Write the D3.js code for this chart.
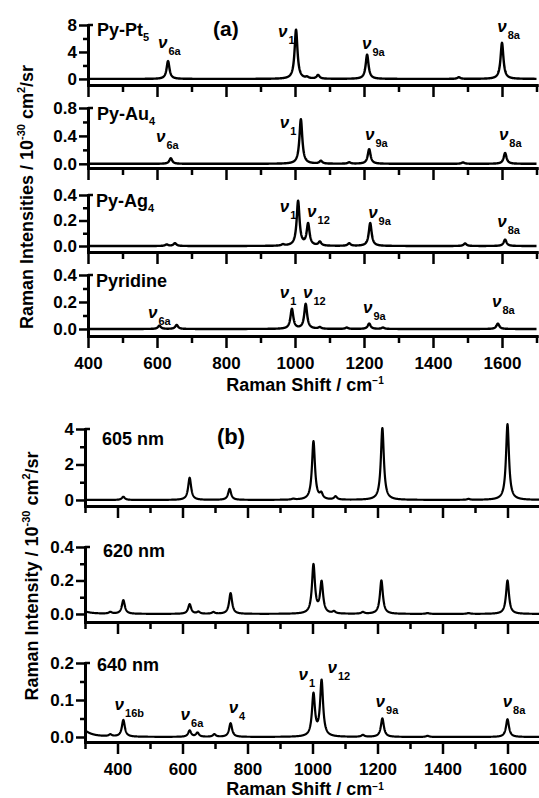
<!DOCTYPE html>
<html><head><meta charset="utf-8">
<script src="https://cdn.jsdelivr.net/npm/d3@7"></script>
<style>
body{margin:0;background:#fff}
svg{display:block}
text{font-family:Arial,"Liberation Sans",sans-serif;font-weight:bold;fill:#000}
</style>
</head><body>
<svg id="c" width="539" height="798"></svg>
<script>
// ---------- DATA ----------
// Panel (a): computed Raman spectra, peaks as [wavenumber, intensity]
const aNames = ["Py-Pt", "Py-Au", "Py-Ag", "Pyridine"];
const aNameSubs = ["5", "4", "4", ""];
const ptPeaks  = [[632,2.65],[1003,7.3],[1035,0.2],[1067,0.55],[1209,3.6],[1475,0.25],[1600,5.35]];
const auPeaks  = [[640,0.08],[1017,0.64],[1075,0.04],[1157,0.02],[1215,0.21],[1487,0.02],[1609,0.155]];
const agPeaks  = [[628,0.012],[652,0.022],[965,0.01],[1009,0.35],[1038,0.17],[1072,0.03],[1157,0.02],[1218,0.18],[1493,0.02],[1609,0.05]];
const pyPeaks  = [[607,0.025],[657,0.03],[991,0.147],[1031,0.184],[1072,0.012],[1150,0.01],[1215,0.04],[1255,0.01],[1588,0.04]];
const aYMajor = [[0,4,8],[0,0.4,0.8],[0,0.2,0.4],[0,0.2,0.4]];
const aYMinor = [[2,6],[0.2,0.6],[0.1,0.3],[0.1,0.3]];
const aXMajor = [400,600,800,1000,1200,1400,1600];
const aXMinor = [500,700,900,1100,1300,1500,1700];
// mode labels: [mode, wavenumber, intensity]
const ptModes = [["6a",603,4.6],["1",951,6.2],["9a",1194,4.4],["8a",1586,7.0]];
const auModes = [["6a",597,0.31],["1",956,0.51],["9a",1203,0.34],["8a",1591,0.34]];
const agModes = [["1",956,0.27],["12",1035,0.23],["9a",1212,0.22],["8a",1586,0.15]];
const pyModes = [["6a",574,0.08],["1",956,0.23],["12",1023,0.23],["9a",1197,0.12],["8a",1571,0.16]];

// Panel (b): excitation-wavelength dependent spectra, peaks as [wavenumber, intensity, (halfwidth)]
const bNames = ["605 nm", "620 nm", "640 nm"];
const p605Peaks = [[418,0.18],[622,1.25],[745,0.62],[941,0.05],[1003,3.3],[1027,0.3],[1071,0.18],[1215,4.05],[1480,0.05],[1600,4.27]];
const p620Peaks = [[280,0.025,25],[378,0.01],[418,0.082],[622,0.058],[649,0.012],[695,0.01],[748,0.124],[1003,0.29],[1028,0.185],[1066,0.012],[1155,0.01],[1212,0.2],[1354,0.005],[1480,0.005],[1600,0.2]];
const p640Peaks = [[280,0.03,25],[378,0.005],[418,0.045],[622,0.017],[646,0.011],[698,0.007],[748,0.037],[1003,0.113],[1028,0.15],[1155,0.005],[1215,0.05],[1354,0.003],[1600,0.048]];
const bYMajor = [[0,2,4],[0,0.2,0.4],[0,0.1,0.2]];
const bYMinor = [[1,3],[0.1,0.3],[0.05,0.15]];
const bXMajor = [400,600,800,1000,1200,1400,1600];
const bXMinor = [300,500,700,900,1100,1300,1500,1700];
const p640Modes = [["16b",391,0.073],["6a",594,0.046],["4",742,0.065],["1",957,0.154],["12",1046,0.173],["9a",1194,0.081],["8a",1585,0.081]];

// ---------- LAYOUT ----------
const svg = d3.select("#c");
const layoutA = {
  xDom:[400,1700], xRange:[88,536.5], gamma:5, lw:2.4,
  subs:[
    {yDom:[-0.9,8],     yRange:[85,25],   fmt:d3.format("d"),   peaks:ptPeaks, modes:ptModes, name:0, nameY:36},
    {yDom:[-0.06,0.8],  yRange:[168,108], fmt:d3.format(".1f"), peaks:auPeaks, modes:auModes, name:1, nameY:120},
    {yDom:[-0.047,0.4], yRange:[252,195], fmt:d3.format(".1f"), peaks:agPeaks, modes:agModes, name:2, nameY:207},
    {yDom:[-0.052,0.4], yRange:[336,275], fmt:d3.format(".1f"), peaks:pyPeaks, modes:pyModes, name:3, nameY:287}
  ]
};
const layoutB = {
  xDom:[300,1700], xRange:[85,540], gamma:5.5, lw:2.2,
  subs:[
    {yDom:[-0.34,4],     yRange:[506,429], fmt:d3.format("d"),   peaks:p605Peaks, modes:[],        name:0, nameY:445},
    {yDom:[-0.048,0.4],  yRange:[622,547], fmt:d3.format(".1f"), peaks:p620Peaks, modes:[],        name:1, nameY:557},
    {yDom:[-0.0135,0.2], yRange:[742,663], fmt:d3.format(".1f"), peaks:p640Peaks, modes:p640Modes, name:2, nameY:671}
  ]
};

function spectrum(peaks, gamma, dom){
  const pts = [];
  for (let v = dom[0]; v <= dom[1]; v += 0.5){
    let s = 0;
    for (const p of peaks){
      const g = p[2] || gamma, d = v - p[0];
      s += p[1]*g*g/(d*d + g*g);
    }
    pts.push([v, s]);
  }
  return pts;
}

function styleAxis(g, w){
  g.selectAll("path.domain").attr("stroke","#000").attr("stroke-width",w).attr("stroke-linecap","square");
  g.selectAll(".tick line").attr("stroke","#000").attr("stroke-width",2.5);
  g.selectAll(".tick text").attr("font-size",17).attr("font-family","Arial, 'Liberation Sans', sans-serif").attr("font-weight","bold");
}

function drawPanel(L, yMaj, yMin, xMaj, xMin, names, nameSubs, nameX){
  const x = d3.scaleLinear().domain(L.xDom).range(L.xRange);
  const n = L.subs.length;
  L.subs.forEach((s, i) => {
    const y = d3.scaleLinear().domain(s.yDom).range(s.yRange);
    const g = svg.append("g");
    const axisY = s.yRange[0];
    const isLast = i === n - 1;
    // x axis: minor then major
    const gxm = g.append("g").attr("transform",`translate(0,${axisY})`)
      .call(d3.axisBottom(x).tickValues(xMin).tickSize(7).tickSizeOuter(0).tickFormat(""));
    styleAxis(gxm, 3);
    const gx = g.append("g").attr("transform",`translate(0,${axisY})`)
      .call(d3.axisBottom(x).tickValues(xMaj).tickSize(12).tickSizeOuter(0).tickPadding(9)
        .tickFormat(isLast ? d3.format("d") : ""));
    styleAxis(gx, 3);
    // y axis
    const x0 = L.xRange[0];
    const gym = g.append("g").attr("transform",`translate(${x0},0)`)
      .call(d3.axisLeft(y).tickValues(yMin[i]).tickSize(5).tickSizeOuter(0).tickFormat(""));
    styleAxis(gym, 3);
    const gy = g.append("g").attr("transform",`translate(${x0},0)`)
      .call(d3.axisLeft(y).tickValues(yMaj[i]).tickSize(9).tickSizeOuter(0).tickPadding(2).tickFormat(s.fmt));
    styleAxis(gy, 3);
    // top cap
    const ymax = d3.max(yMaj[i]);
    g.append("line").attr("x1",x0).attr("x2",x0+5).attr("y1",y(ymax)).attr("y2",y(ymax))
      .attr("stroke","#000").attr("stroke-width",2.5);
    // spectrum
    g.append("path").datum(spectrum(s.peaks, L.gamma, L.xDom))
      .attr("fill","none").attr("stroke","#000").attr("stroke-width",L.lw).attr("stroke-linejoin","round")
      .attr("d", d3.line().x(d=>x(d[0])).y(d=>y(d[1])));
    // sample name
    const t = g.append("text").attr("x",nameX[i]).attr("y",s.nameY).attr("font-size",18);
    t.append("tspan").text(names[s.name]);
    if (nameSubs && nameSubs[s.name]) t.append("tspan").attr("font-size",11).attr("dy",5).text(nameSubs[s.name]);
    // mode labels
    s.modes.forEach(m => {
      const mt = g.append("text").attr("x",x(m[1])).attr("y",y(m[2])).attr("font-size",17);
      mt.append("tspan").attr("font-style","italic").text("ν");
      mt.append("tspan").attr("font-size",11).attr("dx",1).attr("dy",7).text(m[0]);
    });
  });
  return x;
}

drawPanel(layoutA, aYMajor, aYMinor, aXMajor, aXMinor, aNames, aNameSubs, [97,97,96,96]);
drawPanel(layoutB, bYMajor, bYMinor, bXMajor, bXMinor, bNames, null, [102,103,97]);

// panel letters
svg.append("text").attr("x",213).attr("y",36).attr("font-size",21).text("(a)");
svg.append("text").attr("x",217).attr("y",444).attr("font-size",22).text("(b)");

// x titles
function xTitle(cx, by, supDy){
  const t = svg.append("text").attr("x",cx).attr("y",by).attr("font-size",18).attr("text-anchor","middle");
  t.append("tspan").text("Raman Shift / cm");
  t.append("tspan").attr("font-size",10).attr("dy",supDy).text("−1");
}
xTitle(305, 391, -7);
xTitle(305, 795, -5);

// y titles
function yTitle(bx, cy, main){
  const t = svg.append("text").attr("transform",`translate(${bx},${cy}) rotate(-90)`)
    .attr("font-size",18).attr("text-anchor","middle");
  t.append("tspan").text(main + " / 10");
  t.append("tspan").attr("font-size",11).attr("dy",-8).text("-30");
  t.append("tspan").attr("dy",8).text(" cm");
  t.append("tspan").attr("font-size",11).attr("dy",-8).text("2");
  t.append("tspan").attr("dy",8).text("/sr");
}
yTitle(33, 197, "Raman Intensities");
yTitle(38, 576, "Raman Intensity");
</script>
</body></html>
